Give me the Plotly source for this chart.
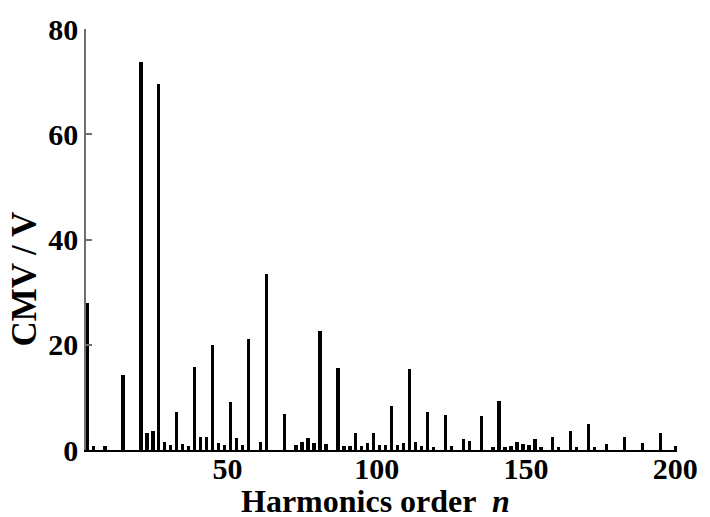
import plotly.graph_objects as go

# Common-mode voltage spectrum: harmonic order vs amplitude (V)
harmonic_order = [
    3, 5, 9, 15, 21, 23, 25, 27, 29, 31, 33, 35, 37, 39, 41, 43, 45, 47, 49,
    51, 53, 55, 57, 61, 63, 69, 73, 75, 77, 79, 81, 83, 87, 89, 91, 93, 95,
    97, 99, 101, 103, 105, 107, 109, 111, 113, 115, 117, 119, 123, 125, 129,
    131, 135, 139, 141, 143, 145, 147, 149, 151, 153, 155, 159, 161, 165,
    167, 171, 173, 177, 183, 189, 195, 200,
]
cmv_amplitude = [
    28.0, 0.7, 0.7, 14.3, 73.8, 3.2, 3.7, 69.5, 1.5, 1.0, 7.3, 1.2, 0.8, 15.8,
    2.5, 2.5, 19.9, 1.4, 0.9, 9.2, 2.2, 0.9, 21.0, 1.5, 33.4, 6.8, 0.9, 1.6,
    2.2, 1.4, 22.7, 1.1, 15.6, 0.7, 0.7, 3.3, 0.7, 1.4, 3.3, 0.9, 0.9, 8.3,
    0.9, 1.4, 15.4, 1.6, 0.8, 7.2, 0.6, 6.6, 0.7, 2.0, 1.8, 6.4, 0.6, 9.4,
    0.6, 0.7, 1.6, 1.1, 0.9, 2.0, 0.6, 2.5, 0.6, 3.7, 0.6, 5.0, 0.6, 1.2,
    2.4, 1.4, 3.2, 0.7,
]

x_ticks = [50, 100, 150, 200]
y_ticks = [0, 20, 40, 60, 80]

serif = "Times New Roman, Liberation Serif, Times, serif"

fig = go.Figure(
    go.Bar(
        x=harmonic_order,
        y=cmv_amplitude,
        width=1.1,
        marker=dict(color="black", line=dict(width=0)),
    )
)

fig.update_layout(
    width=710,
    height=517,
    margin=dict(l=86, r=24, t=24, b=67),
    paper_bgcolor="white",
    plot_bgcolor="white",
    showlegend=False,
    bargap=0,
    xaxis=dict(
        range=[2.6, 200.6],
        tickvals=x_ticks,
        ticks="",
        ticklabelstandoff=-9,
        showline=True,
        linecolor="black",
        linewidth=2,
        showgrid=False,
        zeroline=False,
        tickfont=dict(family=serif, size=30, color="black", weight="bold"),
    ),
    yaxis=dict(
        range=[0, 80],
        tickvals=y_ticks,
        ticks="inside",
        ticklen=6,
        tickwidth=1.5,
        tickcolor="#707070",
        showline=True,
        linecolor="#707070",
        linewidth=1.5,
        showgrid=False,
        zeroline=False,
        tickfont=dict(family=serif, size=30, color="black", weight="bold"),
    ),
    annotations=[
        dict(
            text="Harmonics order  <i>n</i>",
            xref="paper", yref="paper",
            x=0.49, y=-0.12,
            xanchor="center", yanchor="middle",
            showarrow=False,
            font=dict(family=serif, size=32, color="black", weight="bold"),
        ),
        dict(
            text="CMV / V",
            xref="paper", yref="paper",
            x=-0.104, y=0.406,
            xanchor="center", yanchor="middle",
            textangle=-90,
            showarrow=False,
            font=dict(family=serif, size=35, color="black", weight="bold"),
        ),
    ],
)

fig.write_html("out.html")
